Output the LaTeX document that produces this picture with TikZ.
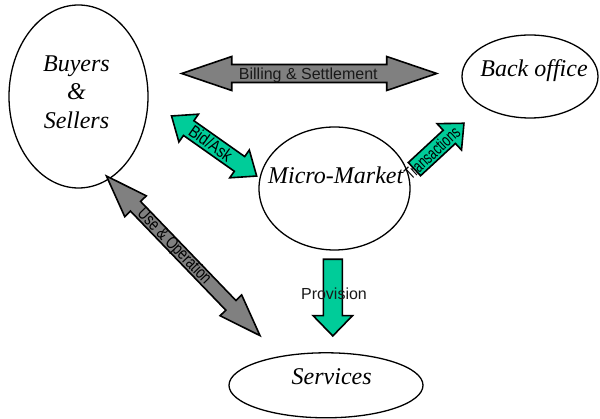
\documentclass[tikz,border=0pt]{standalone}
\usepackage{fontspec}
\setmainfont{Liberation Serif}
\newfontfamily\arialf{Liberation Sans}
\usetikzlibrary{shapes.geometric}
\definecolor{agreen}{RGB}{0,204,153}
\definecolor{agray}{RGB}{128,128,128}
% style, cx, cy, angle, length, head length, head half-width, shaft half-width
\newcommand\dblblock[8]{%
  \draw[#1, shift={(#2,#3)}, rotate=#4]
    ({-#5/2},0) -- ({-#5/2+#6},#7) -- ({-#5/2+#6},#8) -- ({#5/2-#6},#8) --
    ({#5/2-#6},#7) -- ({#5/2},0) -- ({#5/2-#6},-#7) -- ({#5/2-#6},-#8) --
    ({-#5/2+#6},-#8) -- ({-#5/2+#6},-#7) -- cycle;}
\newcommand\sglblock[8]{%
  \draw[#1, shift={(#2,#3)}, rotate=#4]
    ({-#5/2},#8) -- ({#5/2-#6},#8) -- ({#5/2-#6},#7) -- ({#5/2},0) --
    ({#5/2-#6},-#7) -- ({#5/2-#6},-#8) -- ({-#5/2},-#8) -- cycle;}
\tikzset{
  oval/.style={ellipse, draw=black, line width=1.3pt, inner sep=0pt, fill=white},
  ovaltext/.style={font=\itshape\fontsize{24}{28}\selectfont, anchor=base, inner sep=0pt},
  greenblock/.style={fill=agreen, draw=black, line width=1.6pt},
  grayblock/.style={fill=agray, draw=black, line width=1.6pt},
  arrowtext/.style={font=\arialf\fontsize{16}{19}\selectfont, inner sep=0pt, text=black!90},
  rottext/.style={font=\arialf\fontsize{17.5}{19}\selectfont, inner sep=0pt, text=black},
}
\begin{document}
\begin{tikzpicture}[x=1pt, y=-1pt]
\useasboundingbox (0,0) rectangle (600,419);
% ovals
\node[oval, minimum width=139pt, minimum height=183pt] (buyers) at (78.5,96.5) {};
\node[oval, minimum width=136pt, minimum height=83pt] (back) at (530,76.5) {};
\node[oval, minimum width=151pt, minimum height=123pt] (micro) at (334.5,188.5) {};
\node[oval, minimum width=194pt, minimum height=65pt] (services) at (326,385.3) {};
% oval labels
\node[ovaltext] (b1) at (76.5,71.7) {Buyers};
\node[ovaltext] (b2) at (76.5,100) {\&};
\node[ovaltext] (b3) at (76.5,129) {Sellers};
\node[ovaltext] (backt) at (534,76.7) {Back office};
\node[ovaltext] (microt) at (335.7,183.3) {Micro-Market};
\node[ovaltext] (servt) at (331.7,385) {Services};
% block arrows
\dblblock{grayblock}{309.2}{73.5}{0}{255}{50}{17}{9}
\dblblock{greenblock}{214.1}{146}{-35.2}{104.2}{21}{17}{9}
\sglblock{greenblock}{439.2}{146.2}{42.8}{67.5}{20}{18}{9}
\dblblock{grayblock}{183.2}{255.8}{-46.1}{221.5}{42}{15}{7}
\sglblock{greenblock}{332.8}{297.6}{-90}{76.7}{20.3}{19.7}{9.5}
% arrow labels
\node[arrowtext, anchor=base] (billt) at (308.3,79.5) {Billing \& Settlement};
\node[arrowtext, anchor=base] (provt) at (334,300) {Provision};
\node[rottext, rotate=-35.2, xscale=0.82] (bidt) at (210.8,143.3) {Bid/Ask};
\node[rottext, rotate=42.8, xscale=0.69] (transt) at (432,153) {Transactions};
\node[rottext, rotate=-46.1, xscale=0.76] (uset) at (174,246.7) {Use \& Operation};
\end{tikzpicture}
\end{document}
